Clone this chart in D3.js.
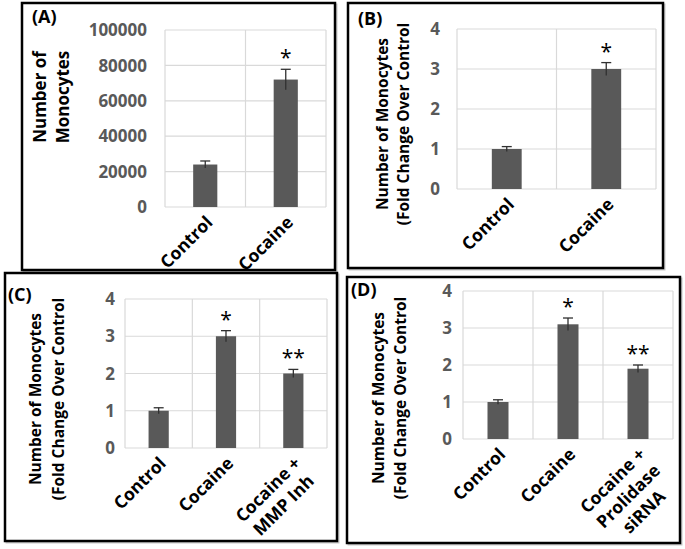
<!DOCTYPE html>
<html>
<head>
<meta charset="utf-8">
<script src="https://d3js.org/d3.v7.min.js"></script>
<style>
  body { margin: 0; background: #fff; }
  svg text { font-family: "Open Sans", "Noto Sans", sans-serif; font-weight: bold; }
  svg text.sig { font-weight: normal; }
</style>
</head>
<body>
<svg id="chart" width="685" height="549"></svg>
<script>
// ---- data ----
const catsA = ["Control", "Cocaine"];
const valsA = [24000, 72000];
const errsA = [2000, 5800];
const sigA  = ["", "*"];
const ticksA = [0, 20000, 40000, 60000, 80000, 100000];
const titleA = ["Number of", "Monocytes"];

const catsB = ["Control", "Cocaine"];
const valsB = [1.0, 3.0];
const errsB = [0.06, 0.16];
const sigB  = ["", "*"];

const catsC = [["Control"], ["Cocaine"], ["Cocaine +", "MMP Inh"]];
const valsC = [1.0, 3.0, 2.0];
const errsC = [0.08, 0.15, 0.11];
const sigC  = ["", "*", "**"];

const catsD = [["Control"], ["Cocaine"], ["Cocaine +", "Prolidase", "siRNA"]];
const valsD = [1.0, 3.1, 1.9];
const errsD = [0.06, 0.17, 0.1];
const sigD  = ["", "*", "**"];

const ticksFold = [0, 1, 2, 3, 4];
const titleFold = ["Number of Monocytes", "(Fold Change Over Control"];

// ---- layout of the four panels ----
const panels = [
  { tag: "(A)", cats: catsA.map(c => [c]), vals: valsA, errs: errsA, sig: sigA, ticks: ticksA, title: titleA,
    box: [22, 3, 335, 270], px: [165, 326], py: [30, 207], tickPad: 18,
    titleX: [40, 63], titleY: 97, titleSize: 17, tagXY: [32, 23] },
  { tag: "(B)", cats: catsB.map(c => [c]), vals: valsB, errs: errsB, sig: sigB, ticks: ticksFold, title: titleFold,
    box: [348, 3, 663, 268], px: [457, 656], py: [29, 189], tickPad: 17,
    titleX: [382, 403], titleY: 124, titleSize: 15.5, tagXY: [358, 25] },
  { tag: "(C)", cats: catsC, vals: valsC, errs: errsC, sig: sigC, ticks: ticksFold, title: titleFold,
    box: [5, 273, 337, 541], px: [125, 327], py: [299, 448], tickPad: 10,
    titleX: [35, 58], titleY: 399, titleSize: 15.5, tagXY: [8, 301] },
  { tag: "(D)", cats: catsD, vals: valsD, errs: errsD, sig: sigD, ticks: ticksFold, title: titleFold,
    box: [347, 277, 680, 543], px: [463, 673], py: [291, 439], tickPad: 11,
    titleX: [378, 400], titleY: 398, titleSize: 15.5, tagXY: [351, 296] }
];

const svg = d3.select("#chart");

panels.forEach(p => {
  const g = svg.append("g");
  const [bx0, by0, bx1, by1] = p.box;

  // frame with faint shadow
  g.append("rect").attr("x", bx0 + 1.5).attr("y", by0 + 1.5)
    .attr("width", bx1 - bx0).attr("height", by1 - by0)
    .attr("fill", "none").attr("stroke", "#c8c8c8").attr("stroke-width", 2);
  g.append("rect").attr("x", bx0).attr("y", by0)
    .attr("width", bx1 - bx0).attr("height", by1 - by0)
    .attr("fill", "#fff").attr("stroke", "#000").attr("stroke-width", 2.5);

  const idx = p.vals.map((d, i) => i);
  const x = d3.scaleBand().domain(idx).range(p.px);
  const y = d3.scaleLinear().domain([0, d3.max(p.ticks)]).range([p.py[1], p.py[0]]);

  // gridlines
  g.selectAll(".hg").data(p.ticks).enter().append("line")
    .attr("x1", p.px[0]).attr("x2", p.px[1])
    .attr("y1", d => y(d)).attr("y2", d => y(d))
    .attr("stroke", "#d9d9d9").attr("stroke-width", 1.2);
  const edges = idx.map(i => x(i)).concat([p.px[1]]);
  g.selectAll(".vg").data(edges).enter().append("line")
    .attr("x1", d => d).attr("x2", d => d)
    .attr("y1", y(d3.max(p.ticks))).attr("y2", y(0))
    .attr("stroke", "#d9d9d9").attr("stroke-width", 1.2);

  // y tick labels
  g.selectAll(".tk").data(p.ticks).enter().append("text")
    .attr("x", p.px[0] - p.tickPad).attr("y", d => y(d)).attr("dy", "0.36em")
    .attr("text-anchor", "end").attr("fill", "#595959").attr("font-size", 17)
    .text(d => d);

  // bars
  const bw = x.bandwidth() * 0.3;
  const cx = i => x(i) + x.bandwidth() / 2;
  g.selectAll(".bar").data(idx).enter().append("rect")
    .attr("x", i => cx(i) - bw / 2).attr("width", bw)
    .attr("y", i => y(p.vals[i])).attr("height", i => y(0) - y(p.vals[i]))
    .attr("fill", "#595959");

  // error bars (lower half sits inside the bar)
  const eb = g.selectAll(".err").data(idx).enter().append("g")
    .attr("stroke", "#303030").attr("stroke-width", 1.3);
  eb.append("line").attr("x1", cx).attr("x2", cx)
    .attr("y1", i => y(p.vals[i] - p.errs[i])).attr("y2", i => y(p.vals[i] + p.errs[i]));
  eb.append("line").attr("x1", i => cx(i) - 5).attr("x2", i => cx(i) + 5)
    .attr("y1", i => y(p.vals[i] + p.errs[i])).attr("y2", i => y(p.vals[i] + p.errs[i]));

  // significance marks
  g.selectAll(".sig").data(idx).enter().append("text")
    .attr("class", "sig")
    .attr("x", cx).attr("y", i => y(p.vals[i] + p.errs[i]) - 4)
    .attr("text-anchor", "middle").attr("font-size", 21)
    .attr("fill", "#000")
    .text(i => p.sig[i]);

  // category labels, rotated -45
  idx.forEach(i => {
    const lines = p.cats[i];
    const lg = g.append("g")
      .attr("transform", "translate(" + (cx(i) + 4) + "," + (y(0) + 12) + ") rotate(-45)");
    const ts = lines.map((t, k) => lg.append("text")
      .attr("y", k * 22).attr("dy", "0.36em")
      .attr("font-size", 17.5).attr("fill", "#000")
      .attr("text-anchor", "middle").text(t));
    const wmax = d3.max(ts, t => t.node().getComputedTextLength());
    ts.forEach(t => t.attr("x", -wmax / 2));
  });

  // axis title, two rotated lines
  p.title.forEach((t, k) => {
    g.append("text")
      .attr("transform", "translate(" + p.titleX[k] + "," + p.titleY + ") rotate(-90)")
      .attr("dy", "0.36em").attr("text-anchor", "middle")
      .attr("font-size", p.titleSize).attr("fill", "#000")
      .text(t);
  });

  // panel tag
  g.append("text").attr("x", p.tagXY[0]).attr("y", p.tagXY[1])
    .attr("font-size", 18).attr("fill", "#000").text(p.tag);
});
</script>
</body>
</html>
